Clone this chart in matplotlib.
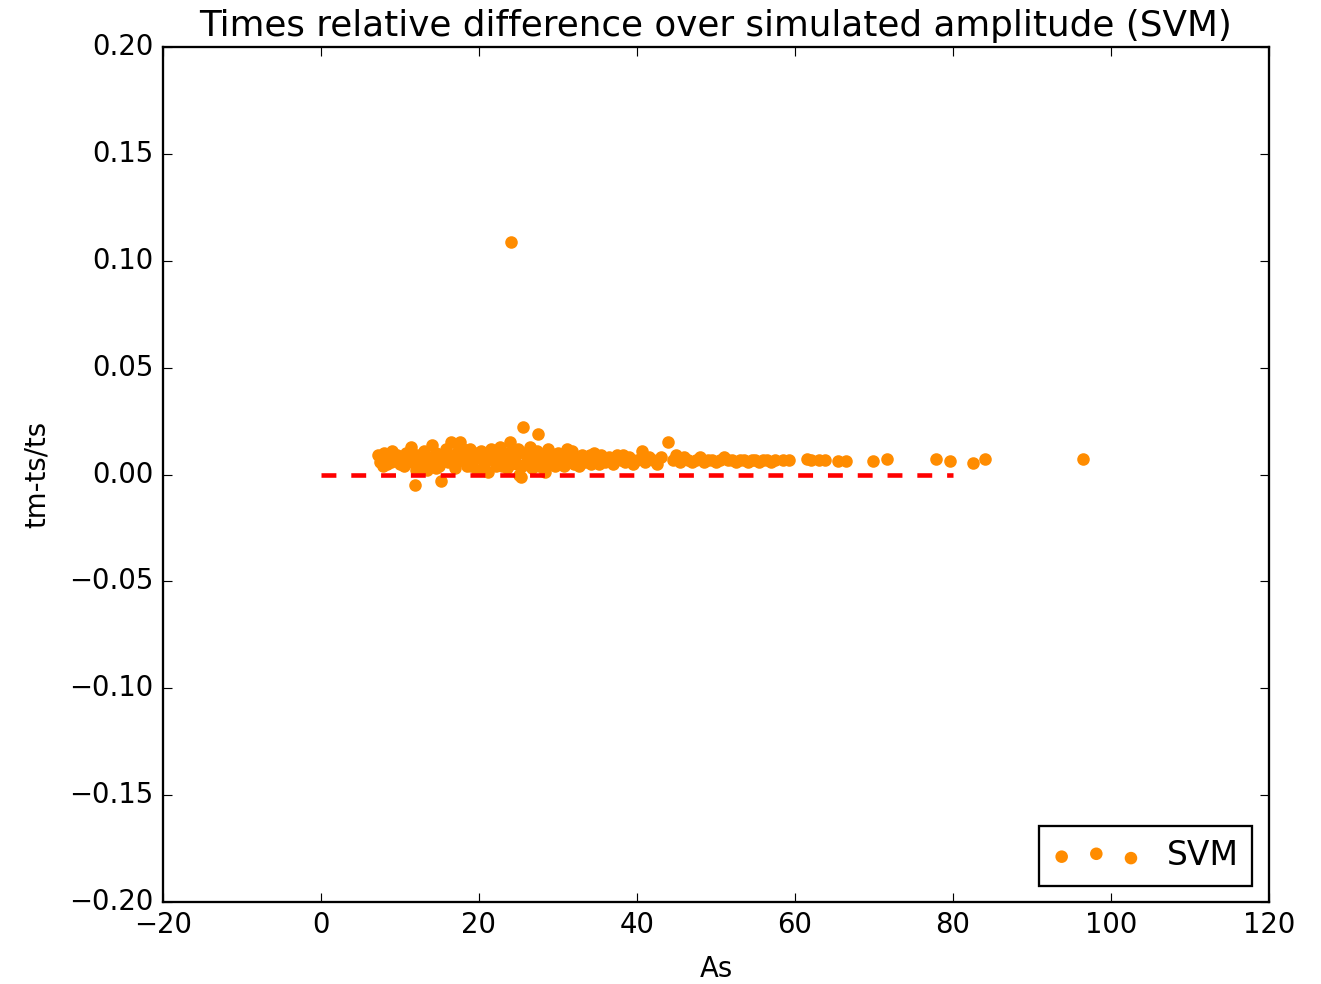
import matplotlib
matplotlib.use('Agg')
import matplotlib.pyplot as plt

plt.style.use('classic')

# amplitude (As) and relative time difference (tm-ts)/ts
As = [7.2, 7.5, 8.0, 8.3, 8.6, 9.0, 9.3, 9.6, 10.0, 10.3, 10.7, 11.0, 11.4, 11.9,
      12.2, 12.5, 12.8, 13.1, 13.4, 13.7, 14.0, 14.3, 14.6, 15.0, 15.2, 15.5, 15.8,
      16.1, 16.4, 16.7, 17.0, 17.3, 17.6, 17.9, 18.2, 18.5, 18.8, 19.1, 19.4, 19.7,
      20.0, 20.3, 20.6, 20.9, 21.2, 21.5, 21.8, 22.1, 22.4, 22.7, 23.0, 23.3, 23.6,
      23.9, 24.05, 24.2, 24.5, 24.8, 25.1, 25.3, 25.6, 25.8, 26.1, 26.4, 26.7, 27.0,
      27.3, 27.5, 27.8, 28.1, 28.4, 28.7, 29.0, 29.3, 29.6, 30.0, 30.3, 30.6, 31.0,
      31.4, 31.8, 32.2, 32.6, 33.0, 33.4, 33.8, 34.2, 34.6, 35.0, 35.5, 36.0, 36.5,
      37.0, 37.5, 38.0, 38.5, 39.0, 39.5, 40.0, 40.6, 41.0, 41.5, 42.0, 42.5, 43.0,
      43.9, 44.5, 45.0, 45.5, 46.0, 46.5, 47.0, 47.5, 48.0, 48.5, 49.0, 49.5, 50.0,
      50.5, 51.0, 51.5, 52.0, 52.5, 53.0, 53.5, 54.0, 54.5, 55.0, 55.5, 56.0, 56.5,
      57.0, 57.5, 58.5, 59.2, 61.5, 62.0, 63.0, 63.8, 65.5, 66.5, 69.9, 71.6, 77.8,
      79.6, 82.5, 84.0, 96.5,
      7.8, 8.9, 9.8, 10.5, 11.7, 12.0, 13.0, 14.5, 15.3, 16.0, 16.9, 17.5, 18.0,
      19.0, 19.9, 20.5, 21.0, 22.0, 22.9, 23.5, 24.0, 24.6, 25.0, 25.5, 26.0, 26.9,
      27.6, 28.3, 29.0, 29.8, 30.8, 31.2, 32.0, 33.2, 34.0, 35.2, 36.2, 37.3, 38.2,
      39.3]
rel_diff = [0.009, 0.006, 0.010, 0.005, 0.008, 0.011, 0.007, 0.009, 0.005, 0.008,
            0.010, 0.006, 0.013, -0.005, 0.009, 0.004, 0.007, 0.011, 0.002, 0.008,
            0.014, 0.006, 0.010, 0.004, -0.003, 0.009, 0.012, 0.006, 0.015, 0.008,
            0.003, 0.011, 0.015, 0.007, 0.009, 0.004, 0.012, 0.006, 0.010, 0.002,
            0.008, 0.011, 0.005, 0.009, 0.001, 0.012, 0.007, 0.004, 0.010, 0.013,
            0.006, 0.009, 0.003, 0.015, 0.109, 0.007, 0.011, 0.005, 0.000, -0.001,
            0.022, 0.010, 0.006, 0.013, 0.003, 0.008, 0.011, 0.019, 0.005, 0.009,
            0.001, 0.012, 0.006, 0.008, 0.004, 0.010, 0.007, 0.005, 0.009, 0.006,
            0.011, 0.008, 0.004, 0.009, 0.006, 0.008, 0.005, 0.010, 0.007, 0.009,
            0.006, 0.008, 0.005, 0.009, 0.007, 0.006, 0.008, 0.005, 0.007, 0.011,
            0.006, 0.008, 0.007, 0.005, 0.008, 0.015, 0.007, 0.009, 0.006, 0.008,
            0.007, 0.006, 0.007, 0.008, 0.006, 0.007, 0.007, 0.006, 0.007, 0.008,
            0.007, 0.007, 0.006, 0.007, 0.007, 0.006, 0.007, 0.007, 0.006, 0.007,
            0.007, 0.006, 0.007, 0.007, 0.007, 0.0073, 0.007, 0.0068, 0.007, 0.0065,
            0.0065, 0.0063, 0.0073, 0.0073, 0.0063, 0.0054, 0.0072, 0.0073,
            0.004, 0.006, 0.007, 0.004, 0.007, 0.002, 0.006, 0.003, 0.007, 0.010,
            0.005, 0.007, 0.012, 0.004, 0.010, 0.007, 0.010, 0.008, 0.004, 0.010,
            0.005, 0.008, 0.012, 0.004, 0.009, 0.007, 0.004, 0.007, 0.010, 0.006,
            0.004, 0.012, 0.005, 0.007, 0.009, 0.005, 0.007, 0.007, 0.009, 0.007]

fig = plt.figure(figsize=(8.012, 5.964), dpi=165)
ax = fig.add_axes([0.1233, 0.0833, 0.8366, 0.8689])

ax.scatter(As, rel_diff, color='darkorange', label='SVM')
ax.plot([0, 80], [0, 0], 'r--', linewidth=2, dashes=(6.5, 6.5))

ax.set_xlim(-20, 120)
ax.set_ylim(-0.2, 0.2)
ax.set_xlabel('As', labelpad=7)
ax.set_ylabel('tm-ts/ts', labelpad=8)
ax.set_title('Times relative difference over simulated amplitude (SVM)', fontsize=15.6)
ax.legend(loc='lower right', handlelength=2.7)

plt.savefig('out.png', dpi=165)
